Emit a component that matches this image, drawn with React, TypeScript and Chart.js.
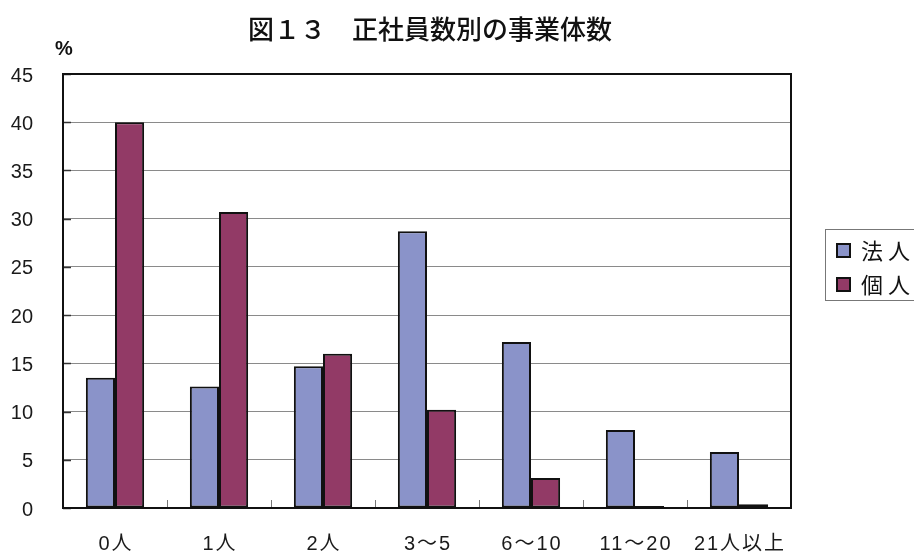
import React, { useEffect, useRef } from "react";
import { Chart, registerables } from "chart.js";

Chart.register(...registerables);

const categories = ["0人", "1人", "2人", "3〜5", "6〜10", "11〜20", "21人以上"];
const houjin = [13.5, 12.6, 14.7, 28.7, 17.2, 8.1, 5.8];
const kojin = [40.0, 30.7, 16.0, 10.2, 3.1, 0.2, 0.4];
const seriesNames = ["法人", "個人"];
const yTicks = [0, 5, 10, 15, 20, 25, 30, 35, 40, 45];
const titleText = "図１３　正社員数別の事業体数";
const unitText = "%";

const COL_A = "#8A93C9";
const COL_B = "#923A66";
const FONT = '"Noto Sans CJK JP", "Noto Sans", sans-serif';
const MIXED = '"Liberation Sans", "Noto Sans CJK JP", sans-serif';

const decorPlugin = {
  id: "decor",
  afterDraw(chart: any) {
    const { ctx, chartArea } = chart;
    const { left, right, top, bottom } = chartArea;
    const xs = chart.scales.x;
    const ys = chart.scales.y;
    ctx.save();
    // small tick marks on left axis
    ctx.strokeStyle = "#333";
    ctx.lineWidth = 1.5;
    yTicks.forEach((v) => {
      const y = Math.round(ys.getPixelForValue(v)) + 0.5;
      ctx.beginPath();
      ctx.moveTo(left, y);
      ctx.lineTo(left + 8, y);
      ctx.stroke();
    });
    // small tick marks between categories
    ctx.strokeStyle = "#777";
    ctx.lineWidth = 1;
    for (let i = 1; i < categories.length; i++) {
      const x = Math.round((xs.getPixelForValue(i - 1) + xs.getPixelForValue(i)) / 2) + 0.5;
      ctx.beginPath();
      ctx.moveTo(x, bottom);
      ctx.lineTo(x, bottom - 8);
      ctx.stroke();
    }
    // frame
    ctx.strokeStyle = "#111";
    ctx.lineWidth = 2;
    ctx.strokeRect(left, top, right - left, bottom - top);
    // x category labels
    ctx.fillStyle = "#1a1a1a";
    ctx.font = `20px ${MIXED}`;
    ctx.textAlign = "center";
    ctx.textBaseline = "middle";
    (ctx as any).letterSpacing = "2px";
    categories.forEach((c, i) => {
      ctx.fillText(c, xs.getPixelForValue(i) + 1, 544);
    });
    // title
    (ctx as any).letterSpacing = "0px";
    ctx.fillStyle = "#111";
    ctx.font = `500 26px ${FONT}`;
    ctx.fillText(titleText, 430, 29);
    // unit
    ctx.font = `bold 20px ${MIXED}`;
    ctx.fillText(unitText, 64, 49);
    // legend
    const lx = 825, ly = 229, lw = 100, lh = 71;
    ctx.strokeStyle = "#777";
    ctx.lineWidth = 1;
    ctx.strokeRect(lx + 0.5, ly + 0.5, lw, lh);
    const cols = [COL_A, COL_B];
    cols.forEach((c, i) => {
      const cy = 250 + i * 34;
      ctx.fillStyle = c;
      ctx.fillRect(837, cy - 6, 13, 13);
      ctx.strokeStyle = "#111";
      ctx.lineWidth = 2;
      ctx.strokeRect(837, cy - 6, 13, 13);
      ctx.fillStyle = "#111";
      ctx.font = `22px ${FONT}`;
      ctx.textAlign = "left";
      (ctx as any).letterSpacing = "5px";
      ctx.fillText(seriesNames[i], 861, cy + 1);
    });
    ctx.restore();
  },
};

export default function App() {
  const ref = useRef<HTMLCanvasElement>(null);
  useEffect(() => {
    if (!ref.current) return;
    const chart = new Chart(ref.current, {
      type: "bar",
      data: {
        labels: categories,
        datasets: [
          {
            label: seriesNames[0],
            data: houjin,
            backgroundColor: COL_A,
            borderColor: "#111",
            borderWidth: 2,
            borderSkipped: false,
          },
          {
            label: seriesNames[1],
            data: kojin,
            backgroundColor: COL_B,
            borderColor: "#111",
            borderWidth: 2,
            borderSkipped: false,
          },
        ],
      },
      plugins: [decorPlugin],
      options: {
        responsive: false,
        animation: false,
        layout: { padding: { left: 0, top: 74, right: 123, bottom: 0 } },
        plugins: { legend: { display: false }, title: { display: false }, tooltip: { enabled: false } },
        datasets: { bar: { categoryPercentage: 0.56, barPercentage: 1.0 } },
        scales: {
          x: {
            grid: { display: false, drawTicks: false },
            border: { display: false },
            ticks: { display: false },
            afterFit(scale: any) {
              scale.height = 47;
            },
          },
          y: {
            min: 0,
            max: 45,
            afterBuildTicks(scale: any) {
              scale.ticks = yTicks.map((v) => ({ value: v }));
            },
            grid: { color: "#8a8a8a", lineWidth: 1, drawTicks: false },
            border: { display: false },
            ticks: { color: "#1a1a1a", font: { family: MIXED, size: 20 }, padding: 30, labelOffset: 2 },
            afterFit(scale: any) {
              scale.width = 63;
            },
          },
        },
      },
    });
    return () => chart.destroy();
  }, []);
  return (
    <div style={{ position: "fixed", left: 0, top: 0, width: 914, height: 555, background: "#fff" }}>
      <canvas ref={ref} width={914} height={555} style={{ width: 914, height: 555 }} />
    </div>
  );
}
